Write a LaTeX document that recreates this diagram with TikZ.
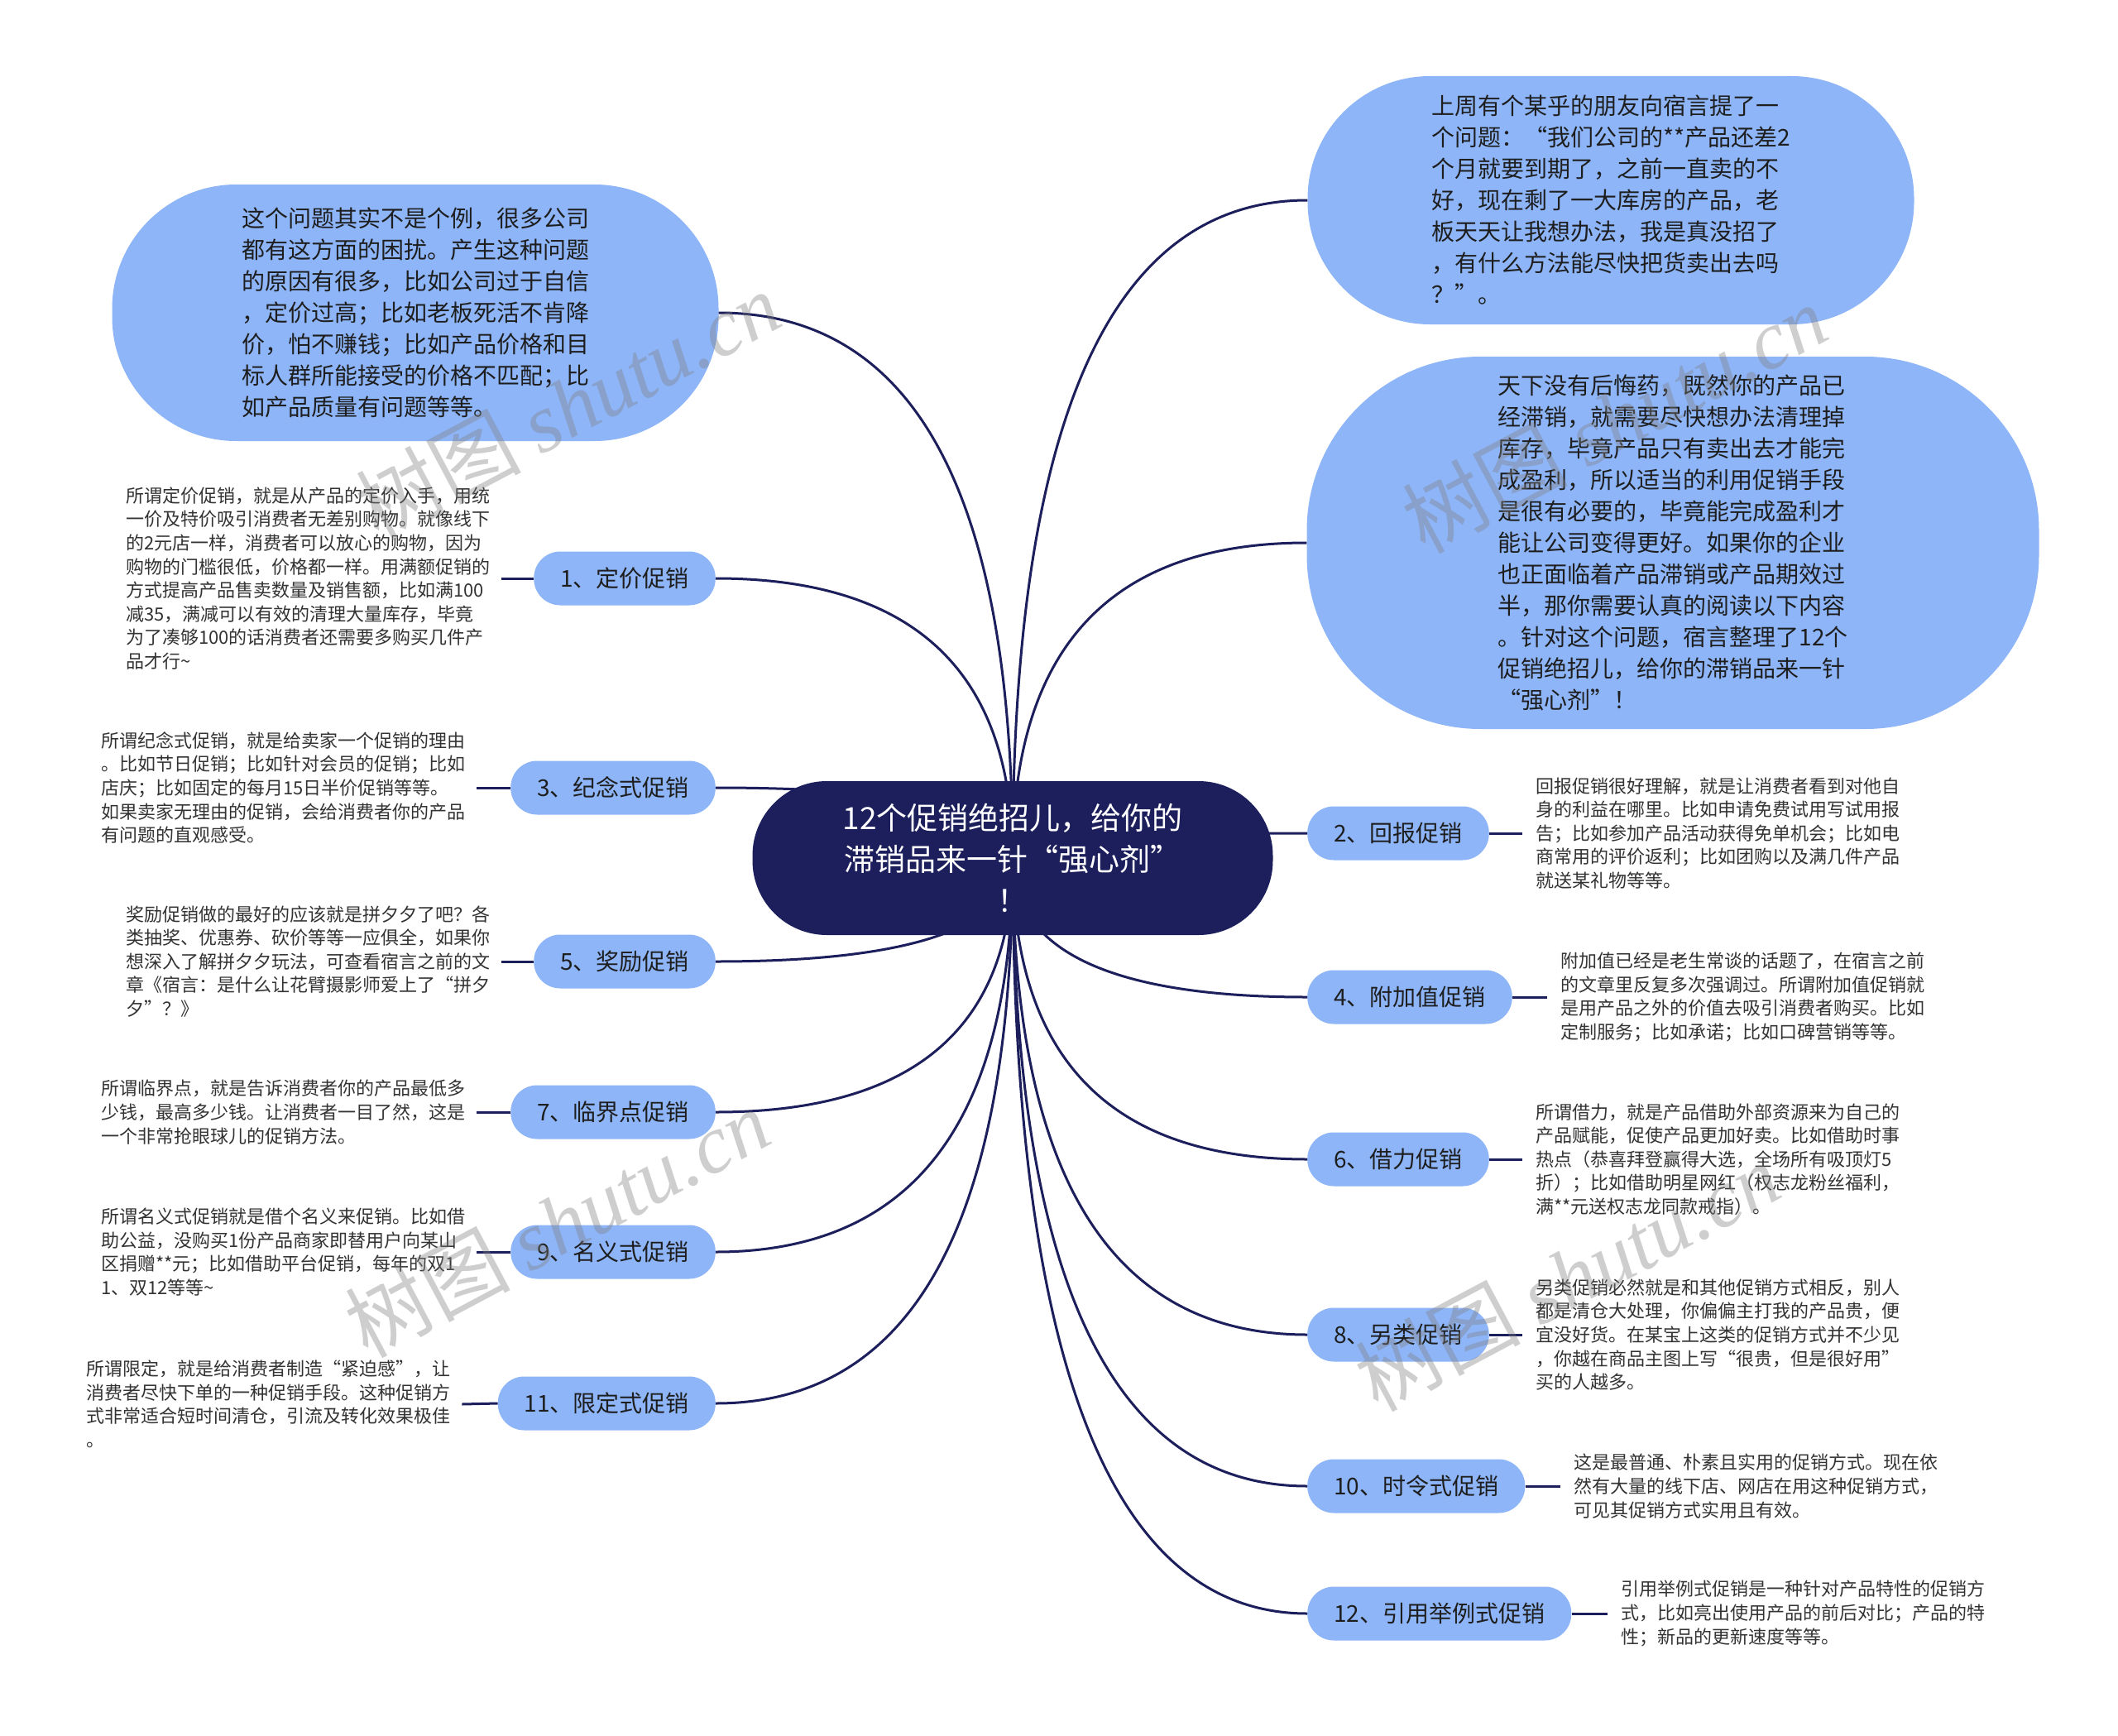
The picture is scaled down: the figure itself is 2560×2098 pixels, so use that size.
\documentclass[tikz,border=0pt]{standalone}
\usepackage{fontspec}
\setmainfont{Noto Sans CJK SC}
\newfontfamily\wmserif{Liberation Serif}
\usetikzlibrary{calc}
\definecolor{navy}{HTML}{1C1F5C}
\definecolor{bub}{HTML}{8DB5F8}
\definecolor{txt}{HTML}{1E1E1E}
\definecolor{dtxt}{HTML}{333333}
\newcommand\qconn[2]{\draw[conn] (#1) .. controls ($(#1)!0.667!(#1|-#2)$) and ($(#2)!0.667!(#1|-#2)$) .. (#2);}
\begin{document}
\begin{tikzpicture}[x=1pt,y=-1pt,
  conn/.style={draw=navy,line width=3pt},
  bubble/.style={fill=bub,draw=none,text=txt,align=left,font=\fontsize{28}{38}\selectfont,inner sep=0pt},
  branch/.style={fill=bub,rounded corners=32pt,minimum height=65pt,inner xsep=32pt,inner ysep=0pt,text=txt,font=\fontsize{28}{34}\selectfont},
  detail/.style={align=left,text=dtxt,font=\fontsize{22}{28.6}\selectfont,inner ysep=0pt},
  wm/.style={text=gray,opacity=0.38,font=\fontsize{100}{100}\selectfont,rotate=28}]
\fill[white] (0,0) rectangle (2560,2098);
\useasboundingbox (0,0) rectangle (2560,2098);
\coordinate (o) at (1224,1037);

% bubbles
\node[bubble,minimum width=733pt,minimum height=310pt,rounded corners=150pt] (tl) at (502,378) {这个问题其实不是个例，很多公司\\都有这方面的困扰。产生这种问题\\的原因有很多，比如公司过于自信\\，定价过高；比如老板死活不肯降\\价，怕不赚钱；比如产品价格和目\\标人群所能接受的价格不匹配；比\\如产品质量有问题等等。};
\node[bubble,minimum width=733pt,minimum height=300pt,rounded corners=148pt] (tr) at (1947,242) {上周有个某乎的朋友向宿言提了一\\个问题：“我们公司的**产品还差2\\个月就要到期了，之前一直卖的不\\好，现在剩了一大库房的产品，老\\板天天让我想办法，我是真没招了\\，有什么方法能尽快把货卖出去吗\\？”。};
\node[bubble,minimum width=885pt,minimum height=450pt,rounded corners=210pt] (tx) at (2022,656) {天下没有后悔药，既然你的产品已\\经滞销，就需要尽快想办法清理掉\\库存，毕竟产品只有卖出去才能完\\成盈利，所以适当的利用促销手段\\是很有必要的，毕竟能完成盈利才\\能让公司变得更好。如果你的企业\\也正面临着产品滞销或产品期效过\\半，那你需要认真的阅读以下内容\\。针对这个问题，宿言整理了12个\\促销绝招儿，给你的滞销品来一针\\ “强心剂”！};

% left branches
\node[branch,anchor=east] (b1) at (865,699) {1、定价促销};
\node[branch,anchor=east] (b3) at (865,952) {3、纪念式促销};
\node[branch,anchor=east] (b5) at (865,1162) {5、奖励促销};
\node[branch,anchor=east] (b7) at (865,1344) {7、临界点促销};
\node[branch,anchor=east] (b9) at (865,1513) {9、名义式促销};
\node[branch,anchor=east] (b11) at (865,1696) {11、限定式促销};
% right branches
\node[branch,anchor=west] (b2) at (1580,1007) {2、回报促销};
\node[branch,anchor=west] (b4) at (1580,1205) {4、附加值促销};
\node[branch,anchor=west] (b6) at (1580,1401) {6、借力促销};
\node[branch,anchor=west] (b8) at (1580,1613) {8、另类促销};
\node[branch,anchor=west] (b10) at (1580,1796) {10、时令式促销};
\node[branch,anchor=west] (b12) at (1580,1950) {12、引用举例式促销};

% left details
\node[detail,anchor=west,inner xsep=14pt] (d1) at (138,699) {所谓定价促销，就是从产品的定价入手，用统\\一价及特价吸引消费者无差别购物。就像线下\\的2元店一样，消费者可以放心的购物，因为\\购物的门槛很低，价格都一样。用满额促销的\\方式提高产品售卖数量及销售额，比如满100\\减35，满减可以有效的清理大量库存，毕竟\\为了凑够100的话消费者还需要多购买几件产\\品才行\textasciitilde};
\node[detail,anchor=west,inner xsep=14pt] (d3) at (108,952) {所谓纪念式促销，就是给卖家一个促销的理由\\。比如节日促销；比如针对会员的促销；比如\\店庆；比如固定的每月15日半价促销等等。\\如果卖家无理由的促销，会给消费者你的产品\\有问题的直观感受。};
\node[detail,anchor=west,inner xsep=14pt] (d5) at (138,1162) {奖励促销做的最好的应该就是拼夕夕了吧？各\\类抽奖、优惠券、砍价等等一应俱全，如果你\\想深入了解拼夕夕玩法，可查看宿言之前的文\\章《宿言：是什么让花臂摄影师爱上了“拼夕\\夕”？》};
\node[detail,anchor=west,inner xsep=14pt] (d7) at (108,1344) {所谓临界点，就是告诉消费者你的产品最低多\\少钱，最高多少钱。让消费者一目了然，这是\\一个非常抢眼球儿的促销方法。};
\node[detail,anchor=west,inner xsep=14pt] (d9) at (108,1513) {所谓名义式促销就是借个名义来促销。比如借\\助公益，没购买1份产品商家即替用户向某山\\区捐赠**元；比如借助平台促销，每年的双1\\1、双12等等\textasciitilde};
\node[detail,anchor=west,inner xsep=14pt] (d11) at (90,1697) {所谓限定，就是给消费者制造“紧迫感”，让\\消费者尽快下单的一种促销手段。这种促销方\\式非常适合短时间清仓，引流及转化效果极佳\\。};
% right details
\node[detail,anchor=west,inner xsep=16pt] (d2) at (1840,1007) {回报促销很好理解，就是让消费者看到对他自\\身的利益在哪里。比如申请免费试用写试用报\\告；比如参加产品活动获得免单机会；比如电\\商常用的评价返利；比如团购以及满几件产品\\就送某礼物等等。};
\node[detail,anchor=west,inner xsep=16pt] (d4) at (1870,1205) {附加值已经是老生常谈的话题了，在宿言之前\\的文章里反复多次强调过。所谓附加值促销就\\是用产品之外的价值去吸引消费者购买。比如\\定制服务；比如承诺；比如口碑营销等等。};
\node[detail,anchor=west,inner xsep=16pt] (d6) at (1840,1401) {所谓借力，就是产品借助外部资源来为自己的\\产品赋能，促使产品更加好卖。比如借助时事\\热点（恭喜拜登赢得大选，全场所有吸顶灯5\\折）；比如借助明星网红（权志龙粉丝福利，\\满**元送权志龙同款戒指）。};
\node[detail,anchor=west,inner xsep=16pt] (d8) at (1840,1613) {另类促销必然就是和其他促销方式相反，别人\\都是清仓大处理，你偏偏主打我的产品贵，便\\宜没好货。在某宝上这类的促销方式并不少见\\，你越在商品主图上写“很贵，但是很好用”\\买的人越多。};
\node[detail,anchor=west,inner xsep=16pt] (d10) at (1886,1796) {这是最普通、朴素且实用的促销方式。现在依\\然有大量的线下店、网店在用这种促销方式，\\可见其促销方式实用且有效。};
\node[detail,anchor=west,inner xsep=16pt] (d12) at (1943,1950) {引用举例式促销是一种针对产品特性的促销方\\式，比如亮出使用产品的前后对比；产品的特\\性；新品的更新速度等等。};

% short connectors
\foreach \n in {1,3,5,7,9,11} {\draw[conn] (b\n.west) -- (d\n.east);}
\foreach \n in {2,4,6,8,10,12} {\draw[conn] (b\n.east) -- (d\n.west);}

% main connectors
\qconn{o}{tl.east}
\qconn{o}{tr.west}
\qconn{o}{tx.west}
\foreach \n in {1,3,5,7,9,11} {\qconn{o}{b\n.east}}
\foreach \n in {2,4,6,8,10,12} {\qconn{o}{b\n.west}}

% root
\node[fill=navy,text=white,align=center,minimum width=629pt,minimum height=186pt,rounded corners=90pt,inner sep=0pt,font=\fontsize{37}{50}\selectfont] (root) at (1224,1037) {12个促销绝招儿，给你的\\滞销品来一针“强心剂”\\！};

% watermarks
\node[wm] (w1) at (686,490) {树图 {\wmserif\itshape shutu.cn}};
\node[wm] (w2) at (1951,506) {树图 {\wmserif\itshape shutu.cn}};
\node[wm] (w3) at (673,1478) {树图 {\wmserif\itshape shutu.cn}};
\node[wm] (w4) at (1894,1543) {树图 {\wmserif\itshape shutu.cn}};
\end{tikzpicture}
\end{document}
